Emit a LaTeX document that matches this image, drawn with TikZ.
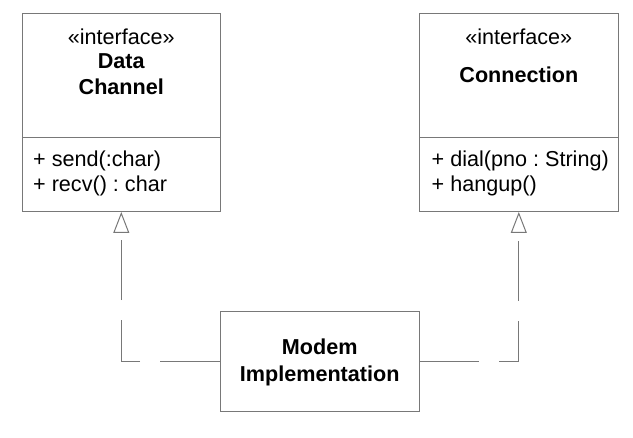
\documentclass[tikz,border=0pt]{standalone}
\usepackage{fontspec}
\setmainfont{Liberation Sans}
\usetikzlibrary{arrows.meta}
\definecolor{linegray}{RGB}{120,120,120}
\frenchspacing
\begin{document}
\begin{tikzpicture}[x=1pt,y=-1pt,
  umlbox/.style={draw=linegray, line width=1pt, fill=white, inner sep=0pt, outer sep=0pt},
  txt/.style={inner sep=0pt, anchor=base, font=\fontsize{21.6}{24}\selectfont},
  btxt/.style={txt, font=\fontsize{21.6}{24}\selectfont\bfseries},
  attr/.style={txt, anchor=base west},
  divider/.style={draw=linegray, line width=1pt},
  realize/.style={draw=linegray, line width=1pt, dash pattern=on 60pt off 20pt,
    -{Triangle[open, length=21pt, width=16pt, line width=1pt]}}
]
\useasboundingbox (0,0) rectangle (633,438);
% boxes
\node[umlbox, minimum width=198.5pt, minimum height=198pt] (dc) at (121.3,113) {};
\node[umlbox, minimum width=199pt, minimum height=198pt] (cn) at (518.8,113) {};
\node[umlbox, minimum width=199.3pt, minimum height=100pt] (mi) at (319.7,361.5) {};
% dividers
\coordinate (dcl) at (dc.west |- 0,137.7);
\coordinate (dcr) at (dc.east |- 0,137.7);
\coordinate (cnl) at (cn.west |- 0,137.7);
\coordinate (cnr) at (cn.east |- 0,137.7);
\draw[divider] (dcl) -- (dcr);
\draw[divider] (cnl) -- (cnr);
% Data Channel texts
\node[txt] (dcs) at (121.3,45) {«interface»};
\node[btxt] (dcn1) at (121.3,68.3) {Data};
\node[btxt] (dcn2) at (121.3,95) {Channel};
\node[attr] (dca1) at (33,166.5) {+ send(:char)};
\node[attr] (dca2) at (33,191.5) {+ recv() : char};
% Connection texts
\node[txt] (cns) at (518.8,45) {«interface»};
\node[btxt] (cnn) at (518.8,82.7) {Connection};
\node[attr] (cna1) at (431.5,166.5) {+ dial(pno : String)};
\node[attr] (cna2) at (431.5,191.5) {+ hangup()};
% Modem texts
\node[btxt] (mi1) at (319.7,355) {Modem};
\node[btxt] (mi2) at (319.7,381.7) {Implementation};
% realizations
\draw[realize] (mi.west) -| (dc.south);
\draw[realize] (mi.east) -| (cn.south);
\end{tikzpicture}
\end{document}
